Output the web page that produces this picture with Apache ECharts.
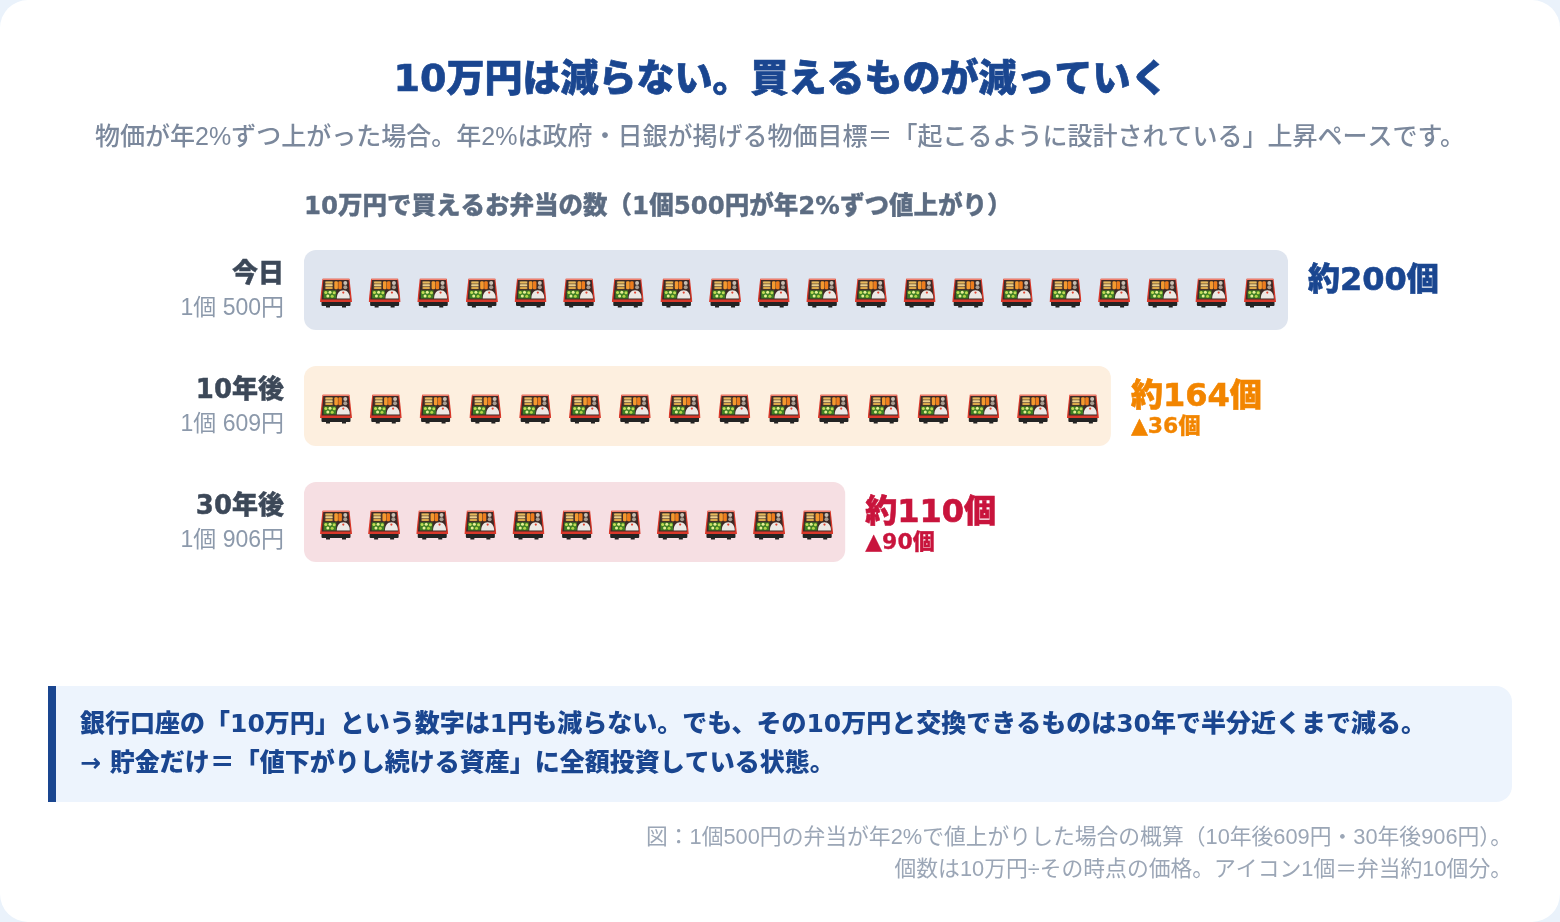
<!DOCTYPE html>
<html lang="ja">
<head>
<meta charset="utf-8">
<title>10万円で買えるお弁当の数</title>
<style>
	html, body { margin: 0; padding: 0; background: #eaf2fb; }
	#chart { width: 1560px; height: 922px; }
</style>
<script src="https://cdn.jsdelivr.net/npm/echarts@6/dist/echarts.min.js"></script>
</head>
<body>
<div id="chart"></div>
<script>
const categories = [ "今日", "10年後", "30年後" ];
const prices = [ 500, 609, 906 ];
const counts = [ 200, 164, 110 ];
const decreases = [ 0, 36, 90 ];
const iconCounts = [ 20, 16, 11 ];

const titleText = "10万円は減らない。買えるものが減っていく";
const subtitleText = "物価が年2%ずつ上がった場合。年2%は政府・日銀が掲げる物価目標＝「起こるように設計されている」上昇ペースです。";
const headingText = "10万円で買えるお弁当の数（1個500円が年2%ずつ値上がり）";
const noteLines = [
	"銀行口座の「10万円」という数字は1円も減らない。でも、その10万円と交換できるものは30年で半分近くまで減る。",
	"→ 貯金だけ＝「値下がりし続ける資産」に全額投資している状態。"
];
const footLines = [
	"図：1個500円の弁当が年2%で値上がりした場合の概算（10年後609円・30年後906円）。",
	"個数は10万円÷その時点の価格。アイコン1個＝弁当約10個分。"
];

const FONT = '"Liberation Sans", "Noto Sans CJK JP", sans-serif';
const FONT_HEAVY = '"DejaVu Sans", "Noto Sans CJK JP", sans-serif';
const NAVY = "#1a4690";
const NAME_COLOR = "#3c4858";
const rowFills = [ "#dfe5ef", "#fdefdf", "#f6dfe3" ];
const rowColors = [ NAVY, "#f28500", "#c8143c" ];

/* お弁当アイコン */
const bentoSvg = `<svg xmlns="http://www.w3.org/2000/svg" width="64" height="60" viewBox="0 0 32 30">
<path d="M1.500 21h29v6a1 1 0 0 1-1 1h-3.500v1.500h-4V28H10v1.500H6V28H2.500a1 1 0 0 1-1-1z" fill="#232323"/>
<path d="M2.500 .8h27L32 24H0z" fill="#d8382a"/>
<path d="M3 .8h26l.15 1.200H2.850z" fill="#f0806e"/>
<path d="M3.400 2h25.200l1.700 19.500H1.700z" fill="#3d2a26"/>
<rect x="4.800" y="3" width="8.400" height="8.200" fill="#6a5238"/>
<rect x="5.300" y="3.500" width="7.400" height="2" rx="1" fill="#e6b95c"/>
<rect x="5.300" y="6.200" width="7.400" height="2" rx="1" fill="#edd08a"/>
<rect x="5.300" y="8.900" width="7.400" height="2" rx="1" fill="#dca84a"/>
<rect x="14.300" y="3.200" width="3.600" height="8" rx="1.200" fill="#f49a30"/>
<rect x="18.300" y="3.200" width="3.600" height="8" rx="1.200" fill="#ee7d1d"/>
<circle cx="25.300" cy="5.100" r="2" fill="#c9bfb2"/>
<circle cx="25.300" cy="9.300" r="2" fill="#a89c90"/>
<rect x="3.600" y="12.400" width="12.600" height="8" fill="#3f7f24"/>
<circle cx="5.800" cy="14.500" r="1.500" fill="#c2dc55"/><circle cx="10" cy="14.200" r="1.500" fill="#e8ef96"/>
<circle cx="14.200" cy="14.800" r="1.500" fill="#c2dc55"/><circle cx="7.800" cy="18" r="1.500" fill="#e8ef96"/>
<circle cx="12.200" cy="18.200" r="1.500" fill="#b3d448"/>
<path d="M16.800 20.600c0-5.300 2.500-8.400 6.500-8.400s6.500 3.100 6.500 8.400z" fill="#ece8e4"/>
<circle cx="23.300" cy="14.600" r="1.100" fill="#e2432f"/>
</svg>`;
const bentoImage = "data:image/svg+xml;charset=utf-8," + encodeURIComponent( bentoSvg );

/* アイコンを棒の内側に両端揃えで並べる */
function renderIcons( params, api ) {
	const row = api.value( 1 );
	const n = api.value( 2 );
	const start = api.coord( [ 0, row ] );
	const end = api.coord( [ api.value( 0 ), row ] );
	const w = 32, h = 30;
	const left = start[0] + 16;
	const right = end[0] - 12 - w;
	const step = ( right - left ) / ( n - 1 );
	const children = [];
	for ( let i = 0; i < n; i++ ) {
		children.push( {
			type: "image",
			style: { image: bentoImage, x: left + step * i, y: start[1] - 12, width: w, height: h }
		} );
	}
	return { type: "group", children };
}

function textEl( text, x, y, size, weight, color, align, family, thicken ) {
	const style = {
		text, x, y,
		fill: color,
		font: `${ weight } ${ size }px ${ family || FONT }`,
		textAlign: align || "left",
		textVerticalAlign: "middle"
	};
	if ( thicken ) {
		style.stroke = color;
		style.lineWidth = thicken;
	}
	return { type: "text", silent: true, style };
}

const chart = echarts.init( document.getElementById( "chart" ) );

chart.setOption( {
	animation: false,
	tooltip: { show: false },
	grid: { left: 304, right: 272, top: 232, height: 348, containLabel: false },
	xAxis: { type: "value", min: 0, max: 200, show: false },
	yAxis: {
		type: "category",
		inverse: true,
		data: categories,
		axisLine: { show: false },
		axisTick: { show: false },
		splitLine: { show: false },
		axisLabel: {
			margin: 20,
			align: "right",
			padding: [ 4, 0, 0, 0 ],
			formatter: ( name, i ) => `{name|${ name }}\n{price|1個 ${ prices[i] }円}`,
			rich: {
				name: {
					fontFamily: FONT_HEAVY, fontSize: 26, fontWeight: 900, color: NAME_COLOR,
					textBorderColor: NAME_COLOR, textBorderWidth: 0.4, align: "right", lineHeight: 34
				},
				price: { fontFamily: FONT, fontSize: 23, fontWeight: 400, color: "#8c99ab", align: "right", lineHeight: 33 }
			}
		}
	},
	series: [ {
		type: "bar",
		barWidth: 80,
		silent: true,
		data: counts.map( ( v, i ) => ( {
			value: v,
			itemStyle: { color: rowFills[i], borderRadius: 12 },
			label: {
				show: true,
				position: "right",
				distance: 20,
				padding: [ 8, 0, 0, 0 ],
				formatter: () => `{big|約${ v }個}\n{sub|${ decreases[i] ? "▲" + decreases[i] + "個" : " " }}`,
				rich: {
					big: {
						fontFamily: FONT_HEAVY, fontSize: 32, fontWeight: 900, color: rowColors[i],
						textBorderColor: rowColors[i], textBorderWidth: 0.6, lineHeight: 34
					},
					sub: {
						fontFamily: FONT_HEAVY, fontSize: 22, fontWeight: 900, color: rowColors[i],
						textBorderColor: rowColors[i], textBorderWidth: 0.3, lineHeight: 24
					}
				}
			}
		} ) )
	}, {
		type: "custom",
		silent: true,
		z: 3,
		encode: { x: 0, y: 1 },
		renderItem: renderIcons,
		data: counts.map( ( v, i ) => [ v, i, iconCounts[i] ] )
	} ],
	graphic: [
		{
			type: "rect", silent: true, z: -10,
			shape: { x: 0, y: 0, width: 1560, height: 922, r: 28 },
			style: { fill: "#ffffff" }
		},
		{
			type: "rect", silent: true, z: -9,
			shape: { x: 48, y: 686, width: 1464, height: 116, r: [ 0, 16, 16, 0 ] },
			style: { fill: "#edf4fd" }
		},
		{
			type: "rect", silent: true, z: -8,
			shape: { x: 48, y: 686, width: 8, height: 116 },
			style: { fill: NAVY }
		},
		textEl( titleText, 781, 81, 38, 900, NAVY, "center", FONT_HEAVY, 0.7 ),
		textEl( subtitleText, 780, 138, 25, 500, "#7b889c", "center" ),
		textEl( headingText, 304, 208, 24.500, 900, "#5c6c82", "left", FONT_HEAVY, 0.3 ),
		textEl( noteLines[0], 80, 725, 25, 900, NAVY, "left", FONT_HEAVY ),
		textEl( noteLines[1], 80, 764, 25, 900, NAVY, "left", FONT_HEAVY ),
		textEl( footLines[0], 1512, 838, 21.800, 400, "#9ba6b6", "right" ),
		textEl( footLines[1], 1512, 870, 21.800, 400, "#9ba6b6", "right" )
	]
} );
</script>
</body>
</html>
